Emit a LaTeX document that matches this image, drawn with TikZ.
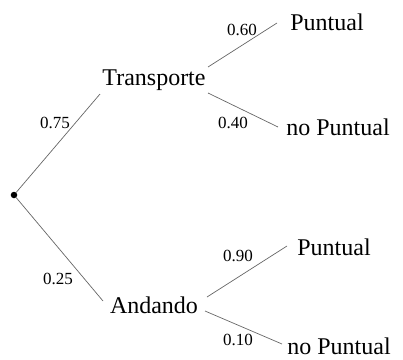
\documentclass[tikz,border=0pt]{standalone}
\usepackage{fontspec}
\setmainfont{Liberation Serif}
\begin{document}
\begin{tikzpicture}[x=1pt,y=-1pt,
  branch/.style={draw=black!60, line width=0.7pt},
  lbl/.style={font=\fontsize{24}{28}\selectfont, inner sep=0pt},
  prob/.style={font=\fontsize{17}{20}\selectfont, inner sep=0pt}]
\useasboundingbox (0,0) rectangle (403,359);
\node[circle, fill=black, inner sep=2.3pt] (root) at (14,195) {};
\node[lbl] (T) at (154,80) {Transporte};
\node[lbl] (A) at (154,305) {Andando};
\node[lbl] (TP) at (327,22) {Puntual};
\node[lbl] (TN) at (338,127) {no Puntual};
\node[lbl] (AP) at (334,247) {Puntual};
\node[lbl] (AN) at (339,346) {no Puntual};
\coordinate (Tin) at (100,94);
\coordinate (Ain) at (103,301);
\coordinate (Tu) at (208,67);
\coordinate (Td) at (208,93);
\coordinate (TPin) at (277,23);
\coordinate (TNin) at (278,127);
\coordinate (Au) at (207,297);
\coordinate (Ad) at (205,311);
\coordinate (APin) at (287,246);
\coordinate (ANin) at (282,344);
\draw[branch] (root) -- (Tin);
\draw[branch] (root) -- (Ain);
\draw[branch] (Tu) -- (TPin);
\draw[branch] (Td) -- (TNin);
\draw[branch] (Au) -- (APin);
\draw[branch] (Ad) -- (ANin);
\node[prob] (p1) at (55,123) {0.75};
\node[prob] (p2) at (58,279) {0.25};
\node[prob] (p3) at (242,30) {0.60};
\node[prob] (p4) at (233,123) {0.40};
\node[prob] (p5) at (238,256) {0.90};
\node[prob] (p6) at (238,340) {0.10};
\end{tikzpicture}
\end{document}
